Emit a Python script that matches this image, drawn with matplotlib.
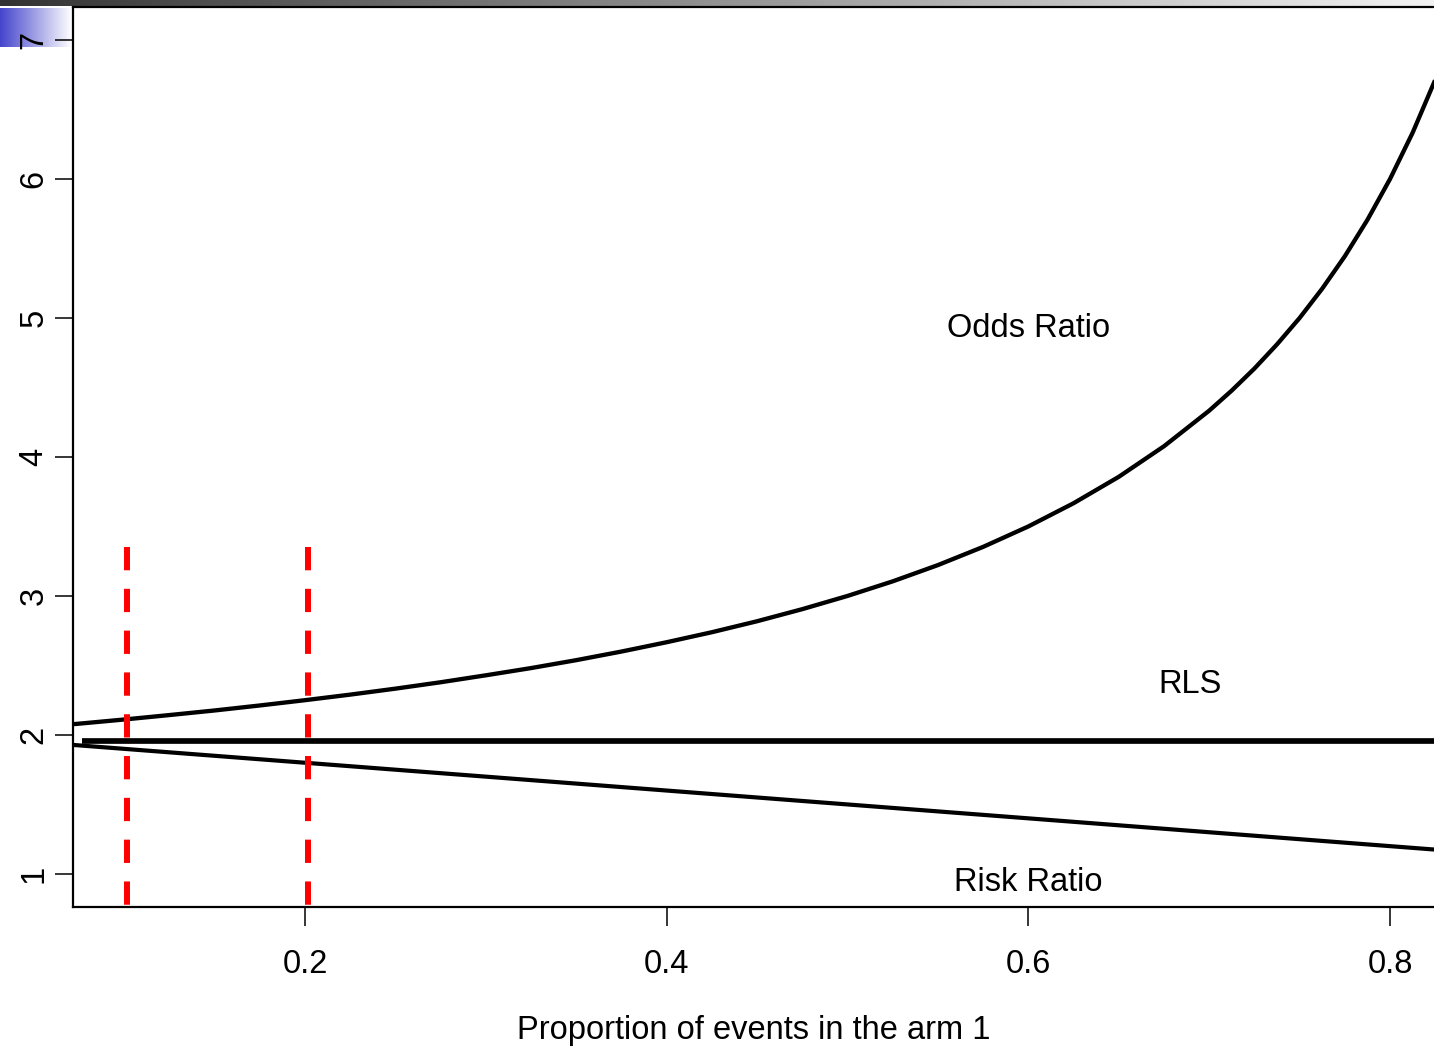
import numpy as np
import matplotlib
matplotlib.use("Agg")
import matplotlib.pyplot as plt

plt.rcParams['font.family'] = ['Liberation Sans', 'DejaVu Sans']

# ---- data ----
p_arm1 = [0.05, 0.075, 0.10, 0.125, 0.15, 0.175, 0.20, 0.225, 0.25, 0.275,
          0.30, 0.325, 0.35, 0.375, 0.40, 0.425, 0.45, 0.475, 0.50, 0.525,
          0.55, 0.575, 0.60, 0.625, 0.65, 0.675, 0.70, 0.7125, 0.725, 0.7375,
          0.75, 0.7625, 0.775, 0.7875, 0.80, 0.8125, 0.825, 0.8375, 0.85]
odds_ratio = [2.053, 2.081, 2.111, 2.143, 2.176, 2.212, 2.250, 2.290, 2.333, 2.379,
              2.429, 2.481, 2.538, 2.600, 2.667, 2.739, 2.818, 2.905, 3.000, 3.105,
              3.222, 3.353, 3.500, 3.667, 3.857, 4.077, 4.333, 4.478, 4.636, 4.810,
              5.000, 5.211, 5.444, 5.706, 6.000, 6.333, 6.714, 7.154, 7.667]
risk_ratio = [1.95, 1.925, 1.90, 1.875, 1.85, 1.825, 1.80, 1.775, 1.75, 1.725,
              1.70, 1.675, 1.65, 1.625, 1.60, 1.575, 1.55, 1.525, 1.50, 1.475,
              1.45, 1.425, 1.40, 1.375, 1.35, 1.325, 1.30, 1.2875, 1.275, 1.2625,
              1.25, 1.2375, 1.225, 1.2125, 1.20, 1.1875, 1.175, 1.1625, 1.15]
rls_x = [0.0765, 0.85]
rls_y = [1.96, 1.96]
ref_lines_x = [0.1015, 0.2017]
ref_lines_top = 3.35

x_ticks = [0.2, 0.4, 0.6, 0.8]
x_ticklabels = ["0.2", "0.4", "0.6", "0.8"]
y_ticks = [1, 2, 3, 4, 5, 6, 7]
y_ticklabels = ["1", "2", "3", "4", "5", "6", "7"]

labels = [("Odds Ratio", 0.6, 4.865), ("RLS", 0.6894, 2.30), ("Risk Ratio", 0.6, 0.88)]

W, H = 1434, 1048
fig = plt.figure(figsize=(W / 100, H / 100), dpi=100, facecolor='white')

# decorative slide gradients (top bar and blue corner)
gbar = fig.add_axes([0, (H - 6) / H, 1, 6 / H], zorder=-2)
g = np.linspace(0.2, 0.95, 256)
gimg = np.stack([g, g, g], axis=-1)[None, :, :].repeat(2, axis=0)
gbar.imshow(gimg, aspect='auto', extent=[0, 1, 0, 1])
gbar.axis('off')

bcorner = fig.add_axes([0, (H - 46.7) / H, 72 / W, 39 / H], zorder=-1)
t = np.linspace(0, 1, 128)
r = 0.27 + (1 - 0.27) * t
gg = 0.27 + (1 - 0.27) * t
b = 0.80 + (1 - 0.80) * t
bimg = np.stack([r, gg, b], axis=-1)[None, :, :].repeat(2, axis=0)
bcorner.imshow(bimg, aspect='auto', extent=[0, 1, 0, 1])
bcorner.axis('off')

ax = fig.add_axes([73.3 / W, (H - 907.3) / H, 1 - 73.3 / W, (907.3 - 7) / H])
ax.set_xlim(0.0719, 0.8243)
ax.set_ylim(0.76, 7.237)

ax.plot(p_arm1, odds_ratio, color='black', lw=3.1, solid_capstyle='butt',
        solid_joinstyle='round')
ax.plot(p_arm1, risk_ratio, color='black', lw=3.0, solid_capstyle='butt',
        solid_joinstyle='round')
ax.plot(rls_x, rls_y, color='black', lw=4.1, solid_capstyle='butt')

for xv in ref_lines_x:
    ax.plot([xv, xv], [ref_lines_top, 0.76], color='#ff0000', lw=4.3,
            linestyle=(0, (3.9, 3.1)), dash_capstyle='butt')

for txt, xv, yv in labels:
    ax.text(xv, yv, txt, ha='center', va='baseline', fontsize=23.5)

ax.set_xticks(x_ticks)
ax.set_xticklabels(x_ticklabels)
ax.set_yticks(y_ticks)
ax.set_yticklabels(y_ticklabels, rotation=90, va='center')
ax.tick_params(axis='x', length=14, width=1.1, pad=16, labelsize=23.5)
ax.tick_params(axis='y', length=13, width=1.1, pad=4, labelsize=23.5)
ax.set_xlabel("Proportion of events in the arm 1", fontsize=23.5, labelpad=25)

for side in ['left', 'bottom', 'top']:
    ax.spines[side].set_linewidth(1.6)
ax.spines['right'].set_visible(False)

fig.savefig("out.png", dpi=100, facecolor='white')
